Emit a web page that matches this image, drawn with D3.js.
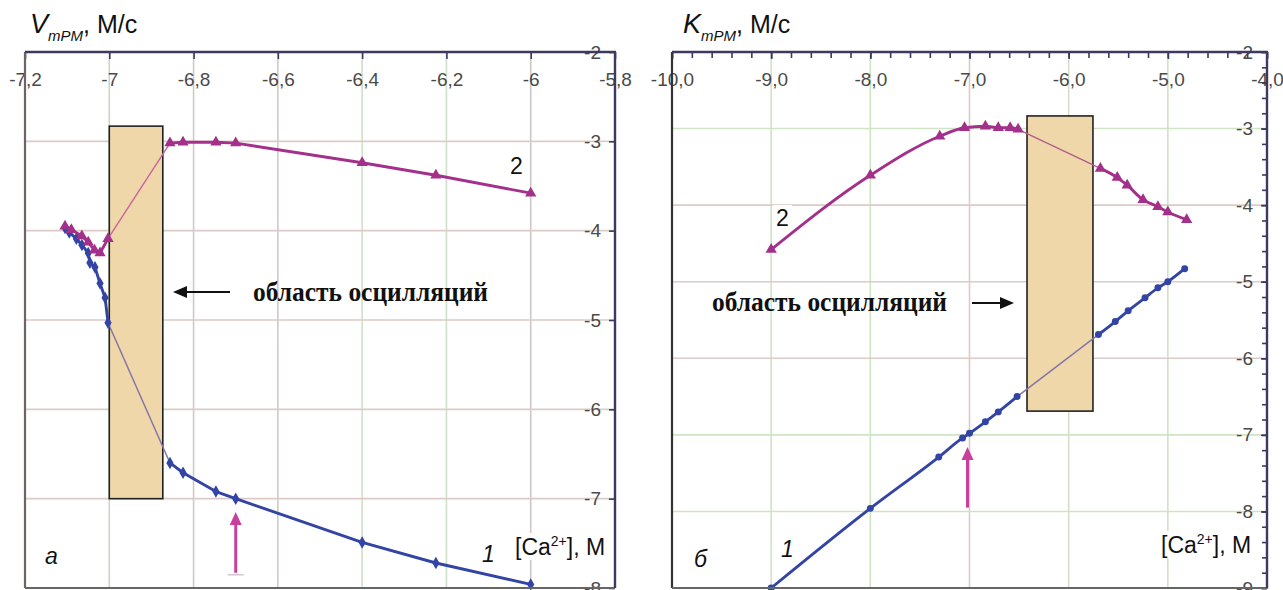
<!DOCTYPE html>
<html><head><meta charset="utf-8">
<script src="https://cdn.jsdelivr.net/npm/d3@7"></script>
<style>
body{margin:0;background:#fff}
svg{display:block}
text{font-family:Arial,"Liberation Sans",sans-serif}
text.note{font-family:"Liberation Serif","Times New Roman",serif;font-weight:bold}
</style>
</head><body>
<svg id="c" width="1283" height="590"></svg>
<script>
// ---------- Panel а : V_mPM ----------
const aTicksX = [-7.2, -7, -6.8, -6.6, -6.4, -6.2, -6, -5.8];
const aTickLabelsX = ["-7,2", "-7", "-6,8", "-6,6", "-6,4", "-6,2", "-6", "-5,8"];
const aTicksY = [-2, -3, -4, -5, -6, -7, -8];
const aTickLabelsY = ["-2", "-3", "-4", "-5", "-6", "-7", "-8"];
// series 1 (blue diamonds)
const a1X = [-7.105, -7.095, -7.078, -7.065, -7.05, -7.046, -7.034, -7.022, -7.01, -7.003, -6.856, -6.825, -6.747, -6.70, -6.40, -6.225, -6.0];
const a1Y = [-3.97, -4.02, -4.09, -4.16, -4.25, -4.36, -4.41, -4.59, -4.75, -5.03, -6.60, -6.71, -6.92, -7.00, -7.49, -7.72, -7.96];
// series 2 (magenta triangles)
const a2X = [-7.105, -7.09, -7.065, -7.05, -7.035, -7.022, -7.003, -6.856, -6.825, -6.747, -6.70, -6.40, -6.225, -6.0];
const a2Y = [-3.95, -3.99, -4.06, -4.13, -4.22, -4.25, -4.09, -3.02, -3.01, -3.01, -3.02, -3.24, -3.38, -3.58];
// oscillation zone and marker arrow
const aZoneX = [-7.0, -6.873];
const aZoneY = [-2.83, -7.0];
const aArrowX = -6.70;
const aArrowY = [-7.83, -7.15];

// ---------- Panel б : K_mPM ----------
const bTicksX = [-10, -9, -8, -7, -6, -5, -4];
const bTickLabelsX = ["-10,0", "-9,0", "-8,0", "-7,0", "-6,0", "-5,0", "-4,0"];
const bTicksY = [-2, -3, -4, -5, -6, -7, -8, -9];
const bTickLabelsY = ["-2", "-3", "-4", "-5", "-6", "-7", "-8", "-9"];
// series 1 (blue circles)
const b1X = [-9.0, -8.0, -7.31, -7.07, -7.0, -6.84, -6.71, -6.52, -5.70, -5.53, -5.40, -5.23, -5.10, -5.0, -4.83];
const b1Y = [-9.0, -7.96, -7.29, -7.04, -6.98, -6.83, -6.70, -6.50, -5.69, -5.52, -5.38, -5.21, -5.08, -5.0, -4.83];
// series 2 (magenta triangles)
const b2X = [-9.0, -8.0, -7.30, -7.05, -6.84, -6.71, -6.59, -6.51, -5.68, -5.51, -5.41, -5.25, -5.10, -5.0, -4.81];
const b2Y = [-4.58, -3.61, -3.10, -2.99, -2.97, -2.99, -2.99, -3.01, -3.52, -3.64, -3.74, -3.93, -4.02, -4.09, -4.19];
const bZoneX = [-6.42, -5.755];
const bZoneY = [-2.835, -6.69];
const bArrowX = -7.02;
const bArrowY = [-7.95, -7.16];

const annotation = "область осцилляций";

// ---------- drawing ----------
const svg = d3.select("#c");
const BLUE = "#3244a4", MAG = "#a3308a", ARROW = "#c8409c";

function zip(xs, ys) { return xs.map((x, i) => ({x, y: ys[i]})); }

function drawPanel(o) {
  const g = svg.append("g");
  const x = d3.scaleLinear().domain(o.xDom).range(o.xRange);
  const y = d3.scaleLinear().domain(o.yDom).range(o.yRange);
  const [L, R] = o.xRange, [T, B] = o.yRange;

  // grid
  o.ticksX.slice(1, -1).forEach((v, i) => g.append("line")
    .attr("x1", x(v)).attr("x2", x(v)).attr("y1", T).attr("y2", B)
    .attr("stroke", o.vGrid[i]).attr("stroke-width", 1.6));
  o.ticksY.slice(1, -1).forEach((v, i) => g.append("line")
    .attr("x1", L).attr("x2", R).attr("y1", y(v)).attr("y2", y(v))
    .attr("stroke", o.hGrid[i]).attr("stroke-width", 1.6));

  // oscillation zone
  g.append("rect")
    .attr("x", x(o.zoneX[0])).attr("y", y(o.zoneY[0]))
    .attr("width", x(o.zoneX[1]) - x(o.zoneX[0]))
    .attr("height", y(o.zoneY[1]) - y(o.zoneY[0]))
    .attr("fill", "#efd7aa").attr("stroke", "#222").attr("stroke-width", 1.6);

  // series
  o.series.forEach(s => {
    const pts = zip(s.x, s.y);
    let k = pts.findIndex((p, i) => i < pts.length - 1 && p.x <= o.zoneX[0] + 0.01 && pts[i + 1].x >= o.zoneX[1] - 0.01);
    const left = pts.slice(0, k + 1), right = pts.slice(k + 1);
    const line = d3.line().x(d => x(d.x)).y(d => y(d.y)).curve(o.curve);
    g.append("line").attr("x1", x(pts[k].x)).attr("y1", y(pts[k].y))
      .attr("x2", x(pts[k + 1].x)).attr("y2", y(pts[k + 1].y))
      .attr("stroke", s.thin).attr("stroke-width", 1.5);
    [left, right].forEach(part => g.append("path").attr("d", line(part))
      .attr("fill", "none").attr("stroke", s.color).attr("stroke-width", 2.9)
      .attr("stroke-linejoin", "round"));
    g.selectAll(null).data(pts).enter().append("path")
      .attr("transform", d => `translate(${x(d.x)},${y(d.y)})`)
      .attr("d", d3.symbol().type(s.symbol).size(s.size))
      .attr("fill", s.color);
  });

  // marker arrow (vertical)
  const ax = x(o.arrowX), ay0 = y(o.arrowY[0]), ay1 = y(o.arrowY[1]);
  g.append("line").attr("x1", ax).attr("x2", ax).attr("y1", ay0).attr("y2", ay1 + 10)
    .attr("stroke", ARROW).attr("stroke-width", 3);
  g.append("path").attr("d", `M${ax},${ay1} L${ax - 6},${ay1 + 13} L${ax + 6},${ay1 + 13} Z`).attr("fill", ARROW);
  if (o.arrowFoot) g.append("line").attr("x1", ax - 8).attr("x2", ax + 8).attr("y1", ay0 + 2).attr("y2", ay0 + 2)
    .attr("stroke", "#c8b8c0").attr("stroke-width", 1.2);

  // axes
  const top = g.append("g").attr("transform", `translate(0,${T})`)
    .call(d3.axisBottom(x).tickValues(o.ticksX).tickFormat((d, i) => o.labelsX[i]).tickSize(7).tickPadding(14).tickSizeOuter(0));
  const right = g.append("g").attr("transform", `translate(${R},0)`)
    .call(d3.axisLeft(y).tickValues(o.ticksY).tickFormat((d, i) => o.labelsY[i]).tickSize(6).tickPadding(8).tickSizeOuter(0));
  if (o.minorX) g.append("g").attr("transform", `translate(0,${T})`)
    .call(d3.axisBottom(x).tickValues(o.minorX).tickFormat("").tickSize(6).tickSizeOuter(0));
  if (o.minorY) g.append("g").attr("transform", `translate(${R},0)`)
    .call(d3.axisLeft(y).tickValues(o.minorY).tickFormat("").tickSize(5).tickSizeOuter(0));
  [top, right].forEach(a => {
    a.selectAll(".domain").remove();
    a.selectAll("text").attr("font-size", 19).attr("fill", "#4a4a4a");
  });
  g.selectAll(".tick line").attr("stroke", "#3c3a5e").attr("stroke-width", 1.6);

  // frame
  g.append("line").attr("x1", L).attr("x2", L).attr("y1", T).attr("y2", B).attr("stroke", o.leftColor).attr("stroke-width", 2.2);
  g.append("line").attr("x1", L).attr("x2", R).attr("y1", B).attr("y2", B).attr("stroke", "#666").attr("stroke-width", 2.2);
  g.append("line").attr("x1", L).attr("x2", R + 1).attr("y1", T).attr("y2", T).attr("stroke", "#3c3a5e").attr("stroke-width", 2.4);
  g.append("line").attr("x1", R).attr("x2", R).attr("y1", T).attr("y2", B).attr("stroke", "#3c3a5e").attr("stroke-width", 2.4);

  // title
  const t = g.append("text").attr("x", o.titleX).attr("y", 33).attr("fill", "#111");
  t.append("tspan").attr("font-style", "italic").attr("font-size", 27).text(o.titleLetter);
  t.append("tspan").attr("font-style", "italic").attr("font-size", 15).attr("dy", 8).text("mPM");
  t.append("tspan").attr("font-size", 25).attr("dy", -8).text(", М/с");

  // annotation
  g.append("text").attr("class", "note").attr("x", o.noteX).attr("y", o.noteY)
    .attr("font-size", 27).attr("textLength", 235).attr("lengthAdjust", "spacingAndGlyphs")
    .attr("fill", "#111").text(annotation);
  const [hx0, hx1] = o.hArrow, hy = o.hArrowY;
  const dir = Math.sign(hx1 - hx0);
  g.append("line").attr("x1", hx0).attr("x2", hx1 - dir * 8).attr("y1", hy).attr("y2", hy)
    .attr("stroke", "#111").attr("stroke-width", 1.8);
  g.append("path").attr("d", `M${hx1},${hy} L${hx1 - dir * 14},${hy - 6} L${hx1 - dir * 14},${hy + 6} Z`).attr("fill", "#111");

  // labels with white backgrounds
  o.labels.forEach(lb => {
    const el = g.append("text").attr("x", lb.x).attr("y", lb.y).attr("font-size", lb.size || 23)
      .attr("font-style", lb.italic ? "italic" : null).attr("fill", "#111");
    if (lb.sup) {
      el.append("tspan").text("[Ca");
      el.append("tspan").attr("font-size", 14).attr("dy", -9).text("2+");
      el.append("tspan").attr("dy", 9).text("], М");
    } else el.text(lb.text);
    const bb = el.node().getBBox();
    g.insert("rect", function () { return el.node(); })
      .attr("x", bb.x - 3).attr("y", bb.y).attr("width", bb.width + 6).attr("height", bb.height)
      .attr("fill", "#fff");
  });
}

const minorBX = d3.range(-10, -3.99, 0.2).map(v => +v.toFixed(1));
const minorBY = d3.range(-9, -1.99, 0.2).map(v => +v.toFixed(1));

drawPanel({
  xDom: [-7.2, -5.8], xRange: [25, 615], yDom: [-2, -8], yRange: [52, 588],
  ticksX: aTicksX, labelsX: aTickLabelsX, ticksY: aTicksY, labelsY: aTickLabelsY,
  vGrid: ["#c9d6c4", "#cfcac8", "#cfcac8", "#cfe0c8", "#cfe0c8", "#cdc8c6"],
  hGrid: ["#dccbc6", "#dccbc6", "#dccbc6", "#dccbc6", "#dccbc6"],
  zoneX: aZoneX, zoneY: aZoneY, arrowX: aArrowX, arrowY: aArrowY, arrowFoot: true,
  curve: d3.curveLinear,
  series: [
    {x: a1X, y: a1Y, color: BLUE, thin: "#8476a6", symbol: d3.symbolDiamond, size: 45},
    {x: a2X, y: a2Y, color: MAG, thin: "#c66b9c", symbol: d3.symbolTriangle, size: 55}
  ],
  leftColor: "#6e6462", titleX: 30, titleLetter: "V",
  noteX: 253, noteY: 301, hArrow: [230, 173], hArrowY: 292,
  labels: [
    {text: "а", x: 45, y: 564, italic: true},
    {text: "1", x: 482, y: 562, italic: true},
    {text: "2", x: 510, y: 174},
    {sup: true, x: 515, y: 555}
  ]
});

drawPanel({
  xDom: [-10, -4], xRange: [672, 1267], yDom: [-2, -9], yRange: [52, 588],
  ticksX: bTicksX, labelsX: bTickLabelsX, ticksY: bTicksY, labelsY: bTickLabelsY,
  minorX: minorBX, minorY: minorBY,
  vGrid: ["#cfe3c5", "#cfe3c5", "#dccbc6", "#d6dcc8", "#cfe3c5"],
  hGrid: ["#cfe3c5", "#dccbc6", "#dccbc6", "#dccbc6", "#cfe3c5", "#cfe3c5"],
  zoneX: bZoneX, zoneY: bZoneY, arrowX: bArrowX, arrowY: bArrowY,
  curve: d3.curveMonotoneX,
  series: [
    {x: b1X, y: b1Y, color: BLUE, thin: "#8476a6", symbol: d3.symbolCircle, size: 38},
    {x: b2X, y: b2Y, color: MAG, thin: "#b35f8e", symbol: d3.symbolTriangle, size: 55}
  ],
  leftColor: "#333", titleX: 683, titleLetter: "K",
  noteX: 712, noteY: 311, hArrow: [972, 1014], hArrowY: 303,
  labels: [
    {text: "б", x: 694, y: 567, italic: true},
    {text: "1", x: 781, y: 557, italic: true},
    {text: "2", x: 776, y: 226},
    {sup: true, x: 1161, y: 553}
  ]
});
</script>
</body></html>
